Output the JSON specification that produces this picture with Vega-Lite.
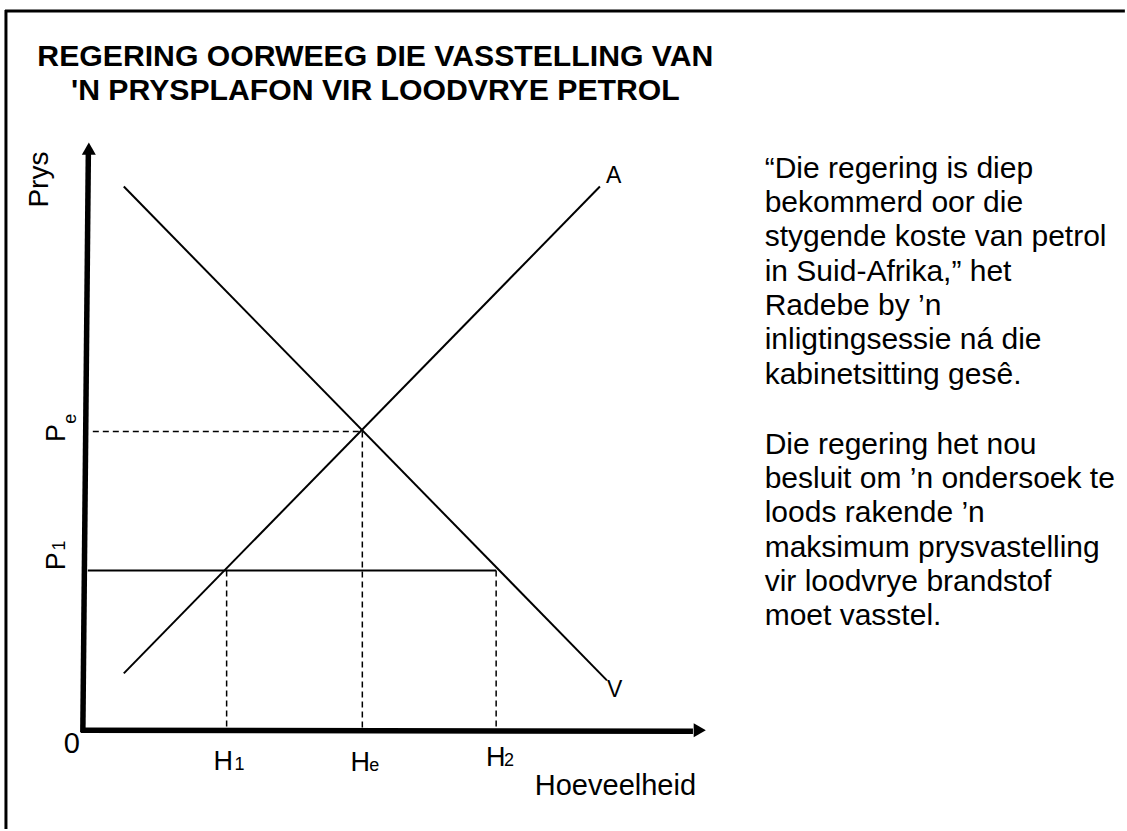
{
  "$schema": "https://vega.github.io/schema/vega-lite/v6.json",
  "width": 1127,
  "height": 831,
  "autosize": {"type": "fit", "contains": "padding"},
  "padding": 0,
  "background": "white",
  "config": {"view": {"stroke": null}, "text": {"font": "Liberation Sans", "color": "black"}},
  "datasets": {
    "segments": [
      {"role": "frame", "name": "top", "q": -11.7, "p": 106.67, "q2": 154.5, "p2": 106.67},
      {"role": "frame", "name": "left", "q": -11.56, "p": 106.81, "q2": -11.56, "p2": -14.8},
      {"role": "axis", "name": "Prys", "q": -0.15, "p": -0.44, "q2": 0.67, "p2": 85.8},
      {"role": "axis", "name": "Hoeveelheid", "q": -0.44, "p": -0.15, "q2": 90.4, "p2": -0.3},
      {"role": "curve", "name": "V", "q": 5.93, "p": 80.59, "q2": 77.63, "p2": 7.26},
      {"role": "curve", "name": "A", "q": 5.93, "p": 8.3, "q2": 76.59, "p2": 80.59},
      {"role": "curve", "name": "P1", "q": 0.59, "p": 23.56, "q2": 61.19, "p2": 23.56},
      {"role": "guide", "name": "Pe", "q": 1.33, "p": 44.22, "q2": 41.33, "p2": 44.22},
      {"role": "guide", "name": "H1", "q": 21.19, "p": 23.56, "q2": 21.19, "p2": 0},
      {"role": "guide", "name": "He", "q": 41.33, "p": 44.22, "q2": 41.33, "p2": 0},
      {"role": "guide", "name": "H2", "q": 61.19, "p": 23.56, "q2": 61.19, "p2": 0}
    ],
    "arrows": [
      {"dir": "up", "q": 0.74, "p": 86.22},
      {"dir": "right", "q": 91.41, "p": -0.15}
    ],
    "labels": [
      {"role": "title", "label": "REGERING OORWEEG DIE VASSTELLING VAN", "q": 43.26, "p": 98.52},
      {"role": "title", "label": "'N PRYSPLAFON VIR LOODVRYE PETROL", "q": 43.26, "p": 93.48},
      {"role": "big", "label": "0", "q": -1.78, "p": -3.56},
      {"role": "big", "label": "Hoeveelheid", "q": 78.89, "p": -9.78},
      {"role": "axisletter", "label": "H", "q": 19.26, "p": -6.07},
      {"role": "axissub", "label": "1", "q": 22.37, "p": -6.07},
      {"role": "axisletter", "label": "H", "q": 39.56, "p": -6.22},
      {"role": "axissub", "label": "e", "q": 42.37, "p": -6.22},
      {"role": "axisletter", "label": "H", "q": 59.7, "p": -5.48},
      {"role": "axissub", "label": "2", "q": 62.37, "p": -5.48},
      {"role": "ytitle", "label": "Prys", "q": -5.33, "p": 81.63},
      {"role": "yletter", "label": "P", "q": -2.81, "p": 44.0},
      {"role": "ysub", "label": "e", "q": -1.19, "p": 46.1},
      {"role": "yletter", "label": "P", "q": -2.81, "p": 24.96},
      {"role": "ysub", "label": "1", "q": -2.81, "p": 27.3},
      {"role": "curvelabel", "label": "A", "q": 77.48, "p": 81.19},
      {"role": "curvelabel", "label": "V", "q": 77.63, "p": 4.74},
      {"role": "note", "label": "“Die regering is diep\nbekommerd oor die\nstygende koste van petrol\nin Suid-Afrika,” het\nRadebe by ’n\ninligtingsessie ná die\nkabinetsitting gesê.", "q": 101.04, "p": 81.88},
      {"role": "note", "label": "Die regering het nou\nbesluit om ’n ondersoek te\nloods rakende ’n\nmaksimum prysvastelling\nvir loodvrye brandstof\nmoet vasstel.", "q": 101.04, "p": 40.89}
    ]
  },
  "encoding": {
    "x": {"field": "q", "type": "quantitative", "scale": {"domain": [-12.444, 154.519], "nice": false, "zero": false}, "axis": null},
    "y": {"field": "p", "type": "quantitative", "scale": {"domain": [-14.815, 108.296], "nice": false, "zero": false}, "axis": null}
  },
  "layer": [
    {
      "data": {"name": "segments"},
      "transform": [{"filter": "datum.role === 'frame'"}],
      "mark": {"type": "rule", "color": "black", "strokeWidth": 3},
      "encoding": {"x2": {"field": "q2"}, "y2": {"field": "p2"}}
    },
    {
      "data": {"name": "segments"},
      "transform": [{"filter": "datum.role === 'axis'"}],
      "mark": {"type": "rule", "color": "black", "strokeWidth": 5.5},
      "encoding": {"x2": {"field": "q2"}, "y2": {"field": "p2"}}
    },
    {
      "data": {"name": "segments"},
      "transform": [{"filter": "datum.role === 'curve'"}],
      "mark": {"type": "rule", "color": "black", "strokeWidth": 2},
      "encoding": {"x2": {"field": "q2"}, "y2": {"field": "p2"}}
    },
    {
      "data": {"name": "segments"},
      "transform": [{"filter": "datum.role === 'guide'"}],
      "mark": {"type": "rule", "color": "black", "strokeWidth": 1.5, "strokeDash": [6, 4]},
      "encoding": {"x2": {"field": "q2"}, "y2": {"field": "p2"}}
    },
    {
      "data": {"name": "arrows"},
      "transform": [{"filter": "datum.dir === 'up'"}],
      "mark": {"type": "point", "shape": "triangle-up", "filled": true, "size": 196, "color": "black", "opacity": 1}
    },
    {
      "data": {"name": "arrows"},
      "transform": [{"filter": "datum.dir === 'right'"}],
      "mark": {"type": "point", "shape": "triangle-right", "filled": true, "size": 196, "color": "black", "opacity": 1}
    },
    {
      "data": {"name": "labels"},
      "transform": [{"filter": "datum.role === 'title'"}],
      "mark": {"type": "text", "fontSize": 30.2, "fontWeight": "bold", "align": "center", "baseline": "alphabetic"},
      "encoding": {"text": {"field": "label"}}
    },
    {
      "data": {"name": "labels"},
      "transform": [{"filter": "datum.role === 'big'"}],
      "mark": {"type": "text", "fontSize": 29, "align": "center", "baseline": "alphabetic"},
      "encoding": {"text": {"field": "label"}}
    },
    {
      "data": {"name": "labels"},
      "transform": [{"filter": "datum.role === 'axisletter'"}],
      "mark": {"type": "text", "fontSize": 27, "align": "left", "baseline": "alphabetic"},
      "encoding": {"text": {"field": "label"}}
    },
    {
      "data": {"name": "labels"},
      "transform": [{"filter": "datum.role === 'axissub'"}],
      "mark": {"type": "text", "fontSize": 18, "align": "left", "baseline": "alphabetic"},
      "encoding": {"text": {"field": "label"}}
    },
    {
      "data": {"name": "labels"},
      "transform": [{"filter": "datum.role === 'ytitle'"}],
      "mark": {"type": "text", "fontSize": 28, "angle": 270, "align": "center", "baseline": "alphabetic"},
      "encoding": {"text": {"field": "label"}}
    },
    {
      "data": {"name": "labels"},
      "transform": [{"filter": "datum.role === 'yletter'"}],
      "mark": {"type": "text", "fontSize": 27, "angle": 270, "align": "center", "baseline": "alphabetic"},
      "encoding": {"text": {"field": "label"}}
    },
    {
      "data": {"name": "labels"},
      "transform": [{"filter": "datum.role === 'ysub'"}],
      "mark": {"type": "text", "fontSize": 18, "angle": 270, "align": "center", "baseline": "alphabetic"},
      "encoding": {"text": {"field": "label"}}
    },
    {
      "data": {"name": "labels"},
      "transform": [{"filter": "datum.role === 'curvelabel'"}],
      "mark": {"type": "text", "fontSize": 23, "align": "left", "baseline": "alphabetic"},
      "encoding": {"text": {"field": "label"}}
    },
    {
      "data": {"name": "labels"},
      "transform": [{"filter": "datum.role === 'note'"}],
      "mark": {"type": "text", "fontSize": 30, "align": "left", "baseline": "alphabetic", "lineBreak": "\n", "lineHeight": 34.3},
      "encoding": {"text": {"field": "label"}}
    }
  ]
}
